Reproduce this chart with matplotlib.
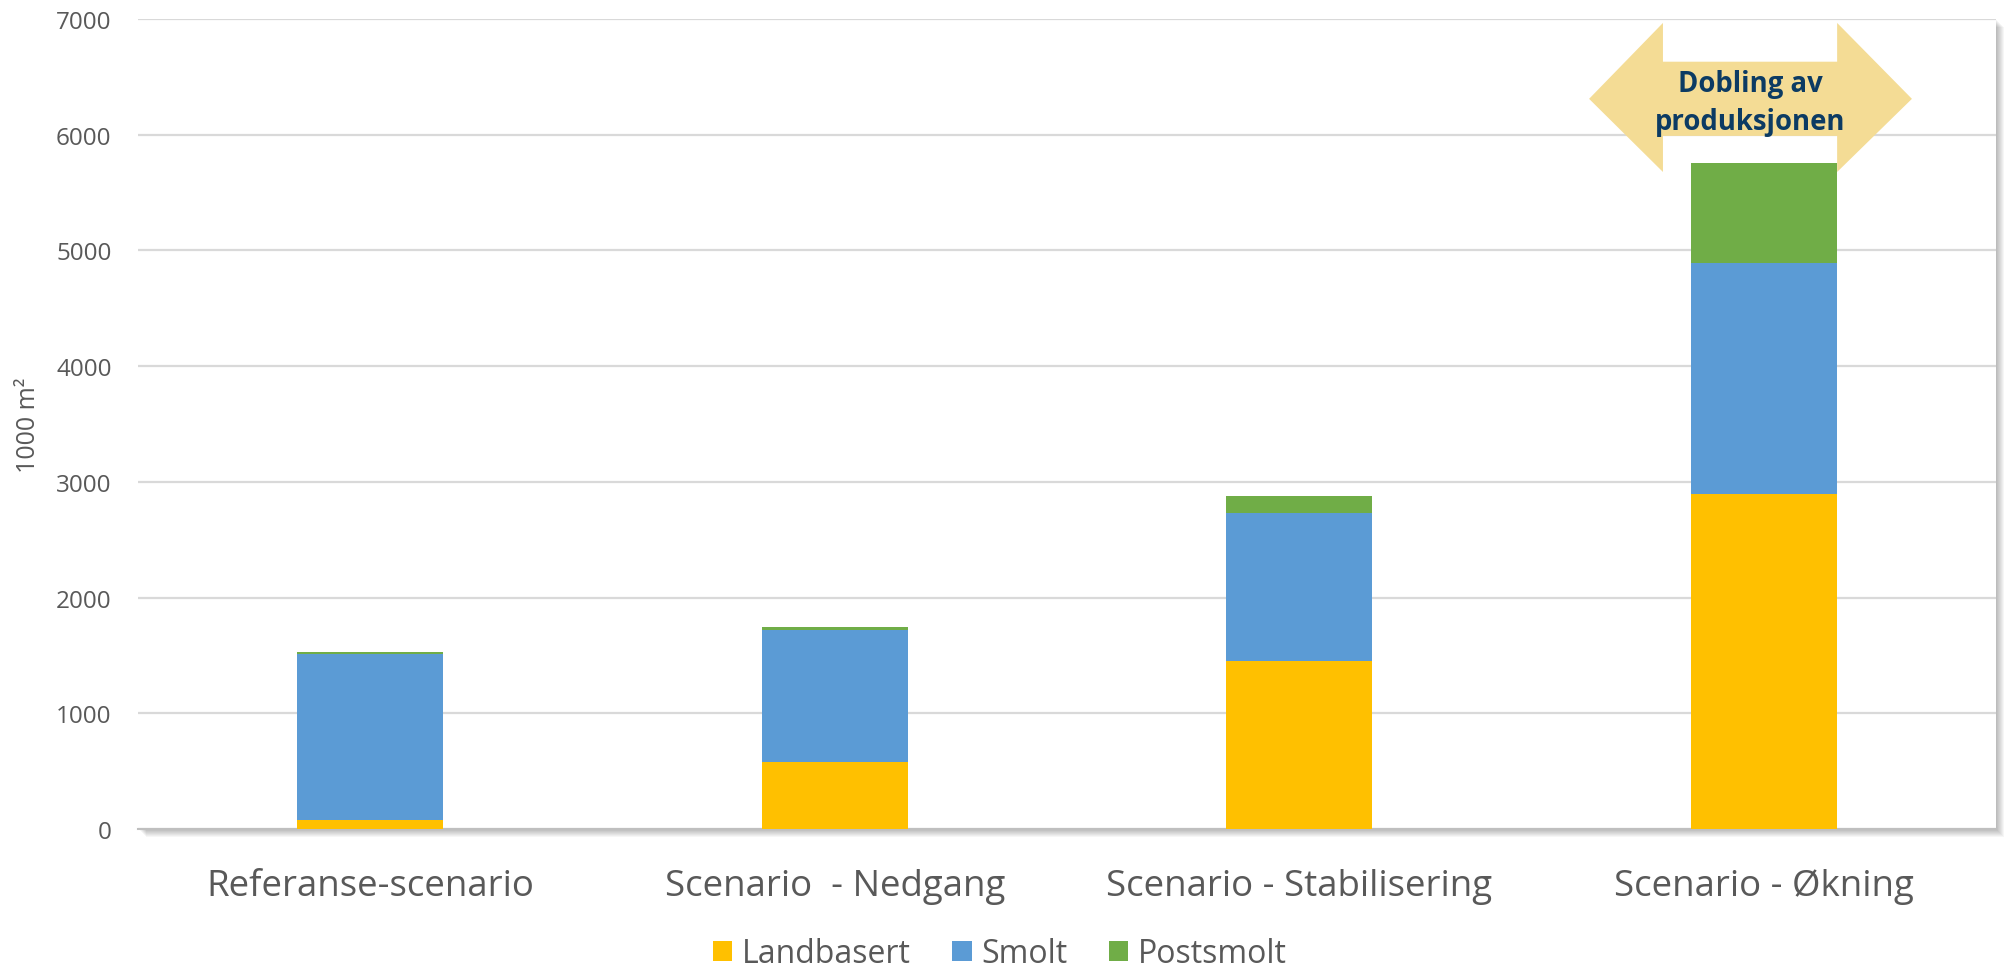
import matplotlib
matplotlib.use("Agg")
import matplotlib.pyplot as plt
from matplotlib.patches import Polygon, Rectangle
import numpy as np

categories = ['Referanse-scenario', 'Scenario  - Nedgang', 'Scenario - Stabilisering', 'Scenario - Økning']
landbasert = [75, 577, 1450, 2893]
smolt = [1437, 1145, 1285, 1997]
postsmolt = [15, 24, 139, 866]
series_names = ['Landbasert', 'Smolt', 'Postsmolt']
colors = ['#FFC000', '#5B9BD5', '#70AD47']
yticks = [0, 1000, 2000, 3000, 4000, 5000, 6000, 7000]
ylabel = '1000 m²'
annotation = 'Dobling av\nproduksjonen'

plt.rcParams['font.family'] = ['Open Sans', 'DejaVu Sans']
TXT = '#595959'

W, H = 2004, 970
fig = plt.figure(figsize=(W / 100, H / 100), dpi=100)
x0, x1, ytop, ybot = 138, 1996, 20, 830
ax = fig.add_axes([x0 / W, (H - ybot) / H, (x1 - x0) / W, (ybot - ytop) / H])
ax.set_zorder(1)

# drop shadow of plot area
for i in range(1, 9):
    fig.patches.append(Rectangle(((x0 + i) / W, (H - ybot - i) / H), (x1 - x0) / W, (ybot - ytop) / H,
                                 transform=fig.transFigure, facecolor='black', alpha=0.035,
                                 edgecolor='none', zorder=-1))

x = np.arange(len(categories))
bw = 0.314
bottom = np.zeros(len(categories))
for vals, name, c in zip([landbasert, smolt, postsmolt], series_names, colors):
    ax.bar(x, vals, bw, bottom=bottom, color=c, label=name, edgecolor='none', zorder=3)
    bottom += np.array(vals)

ax.set_xlim(-0.5, len(categories) - 0.5)
ax.set_ylim(0, 7000)
ax.set_yticks(yticks)
ax.set_yticklabels([str(v) for v in yticks])
ax.grid(axis='y', color='#D9D9D9', linewidth=1.6, zorder=0)
ax.set_axisbelow(True)
for s in ['top', 'right', 'left']:
    ax.spines[s].set_visible(False)
ax.spines['bottom'].set_color('#BFBFBF')
ax.spines['bottom'].set_linewidth(1.5)
ax.spines['bottom'].set_zorder(2)

ax.tick_params(axis='y', length=0, pad=19, labelsize=17.5, labelcolor=TXT)
ax.tick_params(axis='x', length=0, pad=28, labelsize=26.4, labelcolor=TXT)
ax.set_xticks(x)
ax.set_xticklabels(categories)
ax.set_ylabel(ylabel, fontsize=18, color=TXT)
ax.yaxis.set_label_coords(-0.052, 0.5)

# double-headed arrow annotation near last category
c = x[-1]
lt, rt = c - 0.376, c + 0.319       # tips
li, ri = c - 0.217, c + 0.158       # head inner edges
ymid, hh_top, hh_bot = 6310, 6966, 5678
s_top, s_bot = 6631, 5990
pts = [(lt, ymid), (li, hh_top), (li, s_top), (ri, s_top), (ri, hh_top), (rt, ymid),
       (ri, hh_bot), (ri, s_bot), (li, s_bot), (li, hh_bot)]
ax.add_patch(Polygon(pts, closed=True, facecolor='#F4DC95', edgecolor='none', zorder=4))
ax.text((lt + rt) / 2, ymid - 35, annotation, ha='center', va='center', fontsize=19.8,
        fontweight='bold', color='#0C3B63', linespacing=1.4, zorder=5)

handles, labels = ax.get_legend_handles_labels()
fig.legend(handles, labels, loc='center', bbox_to_anchor=(1000 / W, (H - 955) / H), ncol=3,
           frameon=False, fontsize=23, labelcolor=TXT, handlelength=0.6, handleheight=0.6,
           handletextpad=0.31, columnspacing=1.3, borderpad=0)

fig.savefig('out.png', dpi=100, facecolor='white')
